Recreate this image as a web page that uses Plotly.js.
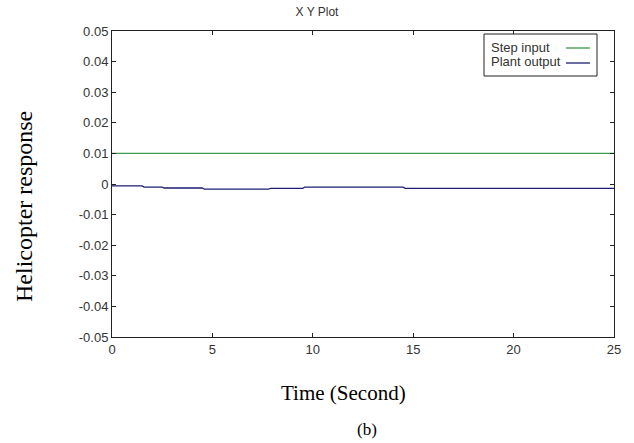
<!DOCTYPE html>
<html>
<head>
<meta charset="utf-8">
<script src="https://cdn.plot.ly/plotly-3.0.1.min.js"></script>
<style>html,body{margin:0;padding:0;background:#fff;}#chart{width:634px;height:443px;}</style>
</head>
<body>
<div id="chart"></div>
<script>
var stepTime = [0, 25];
var stepValue = [0.01, 0.01];
var plantTime = [0, 1.5, 1.6, 2.5, 2.6, 4.5, 4.6, 7.8, 7.9, 9.5, 9.6, 14.5, 14.6, 25];
var plantValue = [-0.0006, -0.0006, -0.001, -0.001, -0.0013, -0.0013, -0.0017, -0.0017, -0.0014, -0.0014, -0.001, -0.001, -0.0014, -0.0014];
var xTicks = [0, 5, 10, 15, 20, 25];
var yTicks = [0.05, 0.04, 0.03, 0.02, 0.01, 0, -0.01, -0.02, -0.03, -0.04, -0.05];
var yTickText = ['0.05', '0.04', '0.03', '0.02', '0.01', '0', '-0.01', '-0.02', '-0.03', '-0.04', '-0.05'];
var seriesNames = ['Step input', 'Plant output'];
var seriesColors = ['#3c9a4c', '#1c1c78'];

var traces = [
  {x: stepTime, y: stepValue, mode: 'lines', name: seriesNames[0], line: {color: seriesColors[0], width: 1.3}},
  {x: plantTime, y: plantValue, mode: 'lines', name: seriesNames[1], line: {color: seriesColors[1], width: 1.3}}
];

var W = 634, H = 443, L = 112, R = 20, T = 31, B = 106;
var pw = W - L - R, ph = H - T - B;
function px(x) { return (x - L) / pw; }
function py(y) { return 1 - (y - T) / ph; }

var axisFont = {family: 'Liberation Sans, Arial, sans-serif', size: 13, color: '#333'};

var layout = {
  width: W, height: H,
  margin: {l: L, r: R, t: T, b: B},
  paper_bgcolor: '#fff', plot_bgcolor: '#fff',
  showlegend: false,
  title: {text: 'X Y Plot', font: {family: 'Liberation Sans, Arial, sans-serif', size: 12, color: '#333'}, x: 0.5, xanchor: 'center', y: 1 - 12 / H, yanchor: 'middle'},
  xaxis: {range: [0, 25], tickvals: xTicks, ticktext: xTicks.map(String), ticks: 'inside', ticklen: 4, tickcolor: '#222',
          showline: true, linecolor: '#222', linewidth: 1, mirror: 'ticks', showgrid: false, zeroline: false,
          tickfont: axisFont, fixedrange: true},
  yaxis: {range: [-0.05, 0.05], tickvals: yTicks, ticktext: yTickText, ticks: 'inside', ticklen: 4, tickcolor: '#222',
          showline: true, linecolor: '#222', linewidth: 1, mirror: 'ticks', showgrid: false, zeroline: false,
          tickfont: axisFont, fixedrange: true},
  shapes: [
    {type: 'rect', xref: 'paper', yref: 'paper', x0: px(484), x1: px(597), y0: py(76), y1: py(34), line: {color: '#222', width: 1}, fillcolor: '#fff', layer: 'above'},
    {type: 'line', xref: 'paper', yref: 'paper', x0: px(566), x1: px(590), y0: py(48), y1: py(48), line: {color: seriesColors[0], width: 1.3}},
    {type: 'line', xref: 'paper', yref: 'paper', x0: px(566), x1: px(590), y0: py(63), y1: py(63), line: {color: seriesColors[1], width: 1.3}}
  ],
  annotations: [
    {text: seriesNames[0], xref: 'paper', yref: 'paper', x: px(489), y: py(47), xanchor: 'left', yanchor: 'middle', showarrow: false, font: axisFont},
    {text: seriesNames[1], xref: 'paper', yref: 'paper', x: px(489), y: py(62), xanchor: 'left', yanchor: 'middle', showarrow: false, font: axisFont},
    {text: 'Helicopter response', xref: 'paper', yref: 'paper', x: px(24), y: py(207), xanchor: 'center', yanchor: 'middle', textangle: -90, showarrow: false,
     font: {family: 'Liberation Serif, Times New Roman, serif', size: 24, color: '#000'}},
    {text: 'Time (Second)', xref: 'paper', yref: 'paper', x: px(343), y: py(393), xanchor: 'center', yanchor: 'middle', showarrow: false,
     font: {family: 'Liberation Serif, Times New Roman, serif', size: 21, color: '#000'}},
    {text: '(b)', xref: 'paper', yref: 'paper', x: px(367), y: py(429), xanchor: 'center', yanchor: 'middle', showarrow: false,
     font: {family: 'Liberation Serif, Times New Roman, serif', size: 17, color: '#000'}}
  ]
};

Plotly.newPlot('chart', traces, layout, {staticPlot: true, displayModeBar: false});
</script>
</body>
</html>
